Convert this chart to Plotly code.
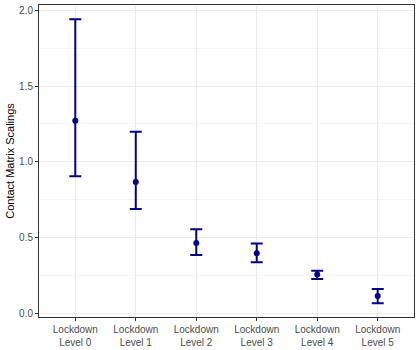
import plotly.graph_objects as go

levels = ['Lockdown<br>Level 0', 'Lockdown<br>Level 1', 'Lockdown<br>Level 2',
          'Lockdown<br>Level 3', 'Lockdown<br>Level 4', 'Lockdown<br>Level 5']
estimate = [1.272, 0.868, 0.467, 0.399, 0.259, 0.118]
lower = [0.906, 0.690, 0.388, 0.340, 0.230, 0.070]
upper = [1.939, 1.199, 0.557, 0.463, 0.285, 0.164]

col = '#00008B'

fig = go.Figure(go.Scatter(
    x=list(range(len(levels))),
    y=estimate,
    mode='markers',
    marker=dict(color=col, size=6),
    error_y=dict(
        type='data', symmetric=False,
        array=[u - e for u, e in zip(upper, estimate)],
        arrayminus=[e - l for e, l in zip(estimate, lower)],
        color=col, thickness=2, width=6,
    ),
    showlegend=False,
))

fig.update_layout(
    width=420, height=350,
    margin=dict(l=39, r=6, t=5, b=33),
    plot_bgcolor='white',
    paper_bgcolor='white',
    font=dict(family='Liberation Sans, Arial', size=11, color='#4d4d4d'),
    xaxis=dict(
        range=[-0.6, 5.6], automargin=False,
        tickmode='array', tickvals=list(range(len(levels))), ticktext=levels,
        showgrid=True, gridcolor='#ebebeb', gridwidth=1,
        ticks='outside', ticklen=3, tickcolor='#333333',
        showline=True, linecolor='#333333', mirror=True, linewidth=1,
        zeroline=False, tickfont=dict(size=10, color='#4d4d4d'),
    ),
    yaxis=dict(
        range=[-0.02, 2.033], automargin=False,
        tickvals=[0, 0.5, 1.0, 1.5, 2.0], ticktext=['0.0', '0.5', '1.0', '1.5', '2.0'],
        showgrid=True, gridcolor='#ebebeb', gridwidth=1,
        minor=dict(tickvals=[0.25, 0.75, 1.25, 1.75], showgrid=True,
                   gridcolor='#f4f4f4', gridwidth=1, ticks=''),
        ticks='outside', ticklen=3, tickcolor='#333333',
        showline=True, linecolor='#333333', mirror=True, linewidth=1,
        zeroline=False, tickfont=dict(size=10, color='#4d4d4d'),
        title=dict(text='Contact Matrix Scalings', font=dict(size=11, color='black'), standoff=2),
    ),
)

# drop the browser's default page margin so the figure sits at 0,0
fig.write_html('out.html', config={'displayModeBar': False},
               post_script="document.body.style.margin='0px';")
